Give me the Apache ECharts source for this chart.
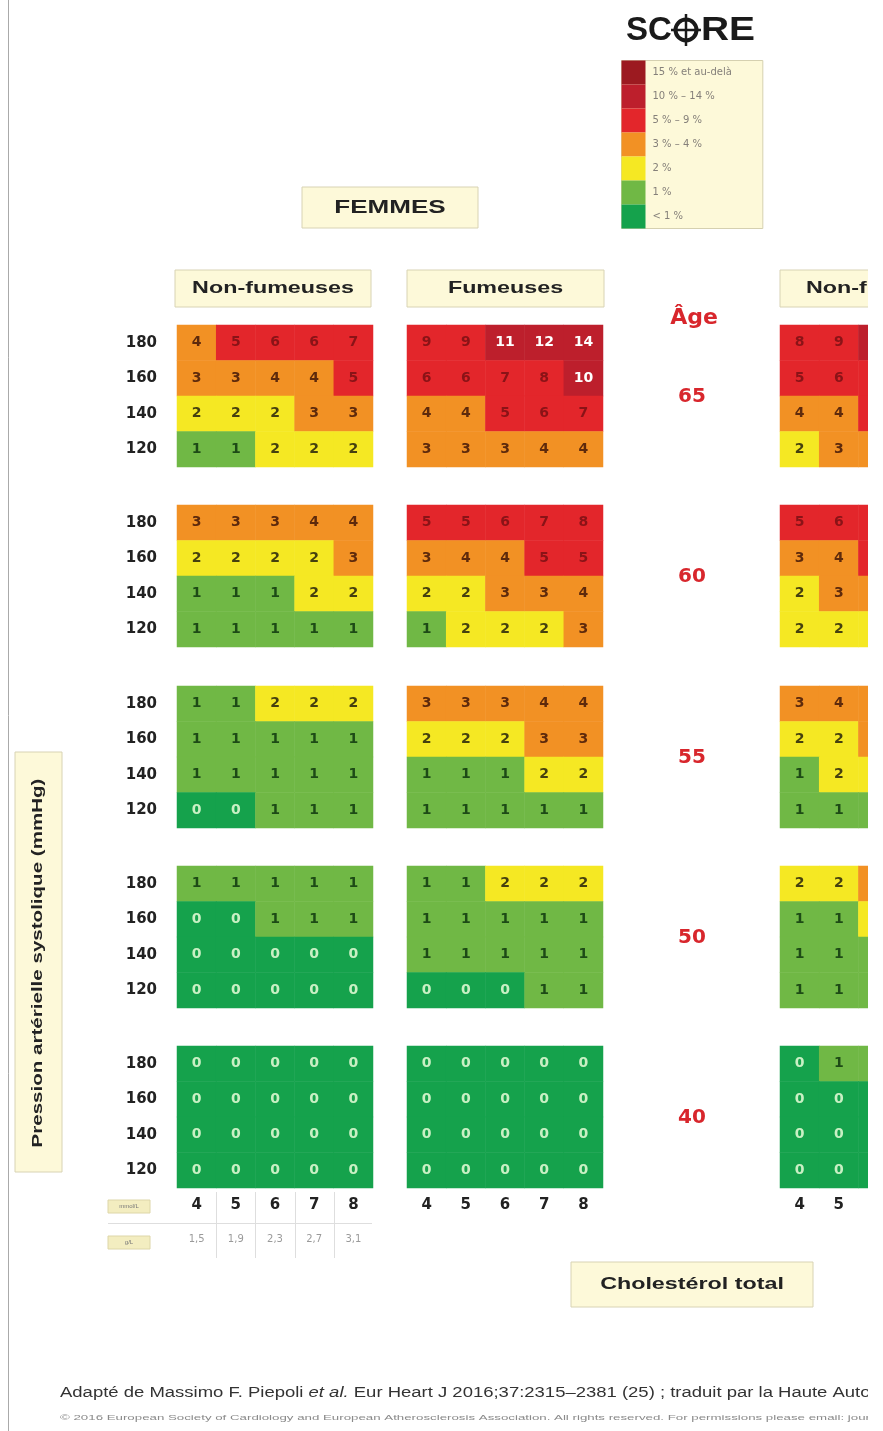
<!DOCTYPE html>
<html>
<head>
<meta charset="utf-8">
<script src="https://cdn.jsdelivr.net/npm/echarts@6/dist/echarts.min.js"></script>
<style>
  html, body { margin: 0; padding: 0; background: #fff; overflow: hidden; }
  #main { width: 900px; height: 1431px; }
</style>
</head>
<body>
<div id="main"></div>
<script>
const ages = ['65', '60', '55', '50', '40']
const pressions = ['120', '140', '160', '180']
const cholMmol = ['4', '5', '6', '7', '8']
const cholGl = ['1,5', '1,9', '2,3', '2,7', '3,1']

// one block per age, rows from 180 (top) down to 120
const femmesNonFumeuses = [
  [[4, 5, 6, 6, 7], [3, 3, 4, 4, 5], [2, 2, 2, 3, 3], [1, 1, 2, 2, 2]],
  [[3, 3, 3, 4, 4], [2, 2, 2, 2, 3], [1, 1, 1, 2, 2], [1, 1, 1, 1, 1]],
  [[1, 1, 2, 2, 2], [1, 1, 1, 1, 1], [1, 1, 1, 1, 1], [0, 0, 1, 1, 1]],
  [[1, 1, 1, 1, 1], [0, 0, 1, 1, 1], [0, 0, 0, 0, 0], [0, 0, 0, 0, 0]],
  [[0, 0, 0, 0, 0], [0, 0, 0, 0, 0], [0, 0, 0, 0, 0], [0, 0, 0, 0, 0]]
]
const femmesFumeuses = [
  [[9, 9, 11, 12, 14], [6, 6, 7, 8, 10], [4, 4, 5, 6, 7], [3, 3, 3, 4, 4]],
  [[5, 5, 6, 7, 8], [3, 4, 4, 5, 5], [2, 2, 3, 3, 4], [1, 2, 2, 2, 3]],
  [[3, 3, 3, 4, 4], [2, 2, 2, 3, 3], [1, 1, 1, 2, 2], [1, 1, 1, 1, 1]],
  [[1, 1, 2, 2, 2], [1, 1, 1, 1, 1], [1, 1, 1, 1, 1], [0, 0, 0, 1, 1]],
  [[0, 0, 0, 0, 0], [0, 0, 0, 0, 0], [0, 0, 0, 0, 0], [0, 0, 0, 0, 0]]
]
// panneau coupé à droite : seules les colonnes 4, 5 et un bout de 6 sont visibles
const hommesNonFumeurs = [
  [[8, 9, 10], [5, 6, 7], [4, 4, 5], [2, 3, 3]],
  [[5, 6, 7], [3, 4, 5], [2, 3, 3], [2, 2, 2]],
  [[3, 4, 4], [2, 2, 3], [1, 2, 2], [1, 1, 1]],
  [[2, 2, 3], [1, 1, 2], [1, 1, 1], [1, 1, 1]],
  [[0, 1, 1], [0, 0, 0], [0, 0, 0], [0, 0, 0]]
]

const FONT = 'Liberation Sans, Arial, sans-serif'
const WIDE = 'DejaVu Sans, sans-serif'
const CREAM = '#fdf9d9'
const BOXLINE = '#d8d3b4'
const RED = '#d8262c'
const STRETCH = 1.37

const panels = [
  { data: femmesNonFumeuses, left: 177, cols: 5, labels: true },
  { data: femmesFumeuses, left: 407, cols: 5, labels: false },
  { data: hommesNonFumeurs, left: 780, cols: 3, labels: false }
]
const colW = 39.2
const blockTop = [325, 505, 686, 866, 1046]
const blockH = 142

function labelColor(v) {
  if (v >= 10) return '#ffffff'
  if (v >= 5) return '#8a1317'
  if (v >= 3) return '#5e2a0c'
  if (v === 2) return '#45400f'
  if (v === 1) return '#1d4a16'
  return '#c9f0c4'
}

const grid = []
const xAxis = []
const yAxis = []
const series = []

panels.forEach((p, pi) => {
  ages.forEach((age, ai) => {
    const gi = grid.length
    grid.push({ left: p.left, top: blockTop[ai], width: colW * p.cols, height: blockH })
    const last = ai === ages.length - 1
    xAxis.push({
      type: 'category', gridIndex: gi, data: cholMmol.slice(0, p.cols),
      axisLine: { show: false }, axisTick: { show: false }, splitLine: { show: false },
      axisLabel: { show: last, margin: 10, fontSize: 15, fontWeight: 'bold', color: '#222', fontFamily: WIDE }
    })
    if (last && pi === 0) {
      xAxis.push({
        type: 'category', gridIndex: gi, data: cholGl, position: 'bottom', offset: 36,
        axisLine: { show: false }, axisTick: { show: false },
        axisLabel: { margin: 10, fontSize: 10, color: '#9a9a9a', fontFamily: WIDE }
      })
    }
    yAxis.push({
      type: 'category', gridIndex: gi, data: pressions,
      axisLine: { show: false }, axisTick: { show: false }, splitLine: { show: false },
      axisLabel: { show: p.labels, margin: 20, fontSize: 15, fontWeight: 'bold', color: '#222', fontFamily: WIDE }
    })
    const items = []
    p.data[ai].forEach((row, r) => {
      row.forEach((v, c) => {
        items.push({ value: [c, pressions.length - 1 - r, v], label: { color: labelColor(v) } })
      })
    })
    series.push({
      type: 'heatmap',
      xAxisIndex: xAxis.length - (last && pi === 0 ? 2 : 1),
      yAxisIndex: yAxis.length - 1,
      data: items,
      itemStyle: { borderWidth: 0 },
      label: { show: true, fontSize: 14, fontWeight: 'bold', fontFamily: WIDE },
      emphasis: { disabled: true }
    })
  })
})

function box(x, y, w, h, text, font) {
  return [
    { type: 'rect', shape: { x: x, y: y, width: w, height: h }, style: { fill: CREAM, stroke: BOXLINE, lineWidth: 1 } },
    { type: 'text', x: x + w / 2, y: y + h / 2, scaleX: STRETCH, style: { text: text, font: font, fill: '#222', align: 'center', verticalAlign: 'middle' } }
  ]
}

let graphic = [
  { type: 'line', shape: { x1: 8.5, y1: 0, x2: 8.5, y2: 1431 }, style: { stroke: '#aaa', lineWidth: 1 } },
  // SCORE
  { type: 'text', x: 626, y: 31, style: { text: 'SC', font: 'bold 33px ' + FONT, fill: '#1a1a1a', verticalAlign: 'middle' } },
  { type: 'circle', shape: { cx: 686, cy: 30, r: 10.5 }, style: { fill: 'none', stroke: '#1a1a1a', lineWidth: 4 } },
  { type: 'line', shape: { x1: 671, y1: 30, x2: 701, y2: 30 }, style: { stroke: '#1a1a1a', lineWidth: 2.5 } },
  { type: 'line', shape: { x1: 686, y1: 14, x2: 686, y2: 46 }, style: { stroke: '#1a1a1a', lineWidth: 2.5 } },
  { type: 'text', x: 701, y: 31, scaleX: 1.18, style: { text: 'RE', font: 'bold 33px ' + FONT, fill: '#1a1a1a', verticalAlign: 'middle' } },
  { type: 'text', x: 694, y: 318, style: { text: 'Âge', font: 'bold 22px ' + WIDE, fill: RED, align: 'center', verticalAlign: 'middle' } },
  // Pression artérielle
  { type: 'rect', shape: { x: 15, y: 752, width: 47, height: 420 }, style: { fill: CREAM, stroke: BOXLINE, lineWidth: 1 } },
  { type: 'text', x: 38, y: 963, rotation: Math.PI / 2, scaleX: STRETCH, style: { text: 'Pression artérielle systolique (mmHg)', font: 'bold 15px ' + FONT, fill: '#222', align: 'center', verticalAlign: 'middle' } },
  // petites étiquettes d'unités
  { type: 'rect', shape: { x: 108, y: 1200, width: 42, height: 13 }, style: { fill: '#f3edc0', stroke: '#ddd6a8', lineWidth: 1 } },
  { type: 'text', x: 129, y: 1206.5, style: { text: 'mmol/L', font: '6px ' + FONT, fill: '#777', align: 'center', verticalAlign: 'middle' } },
  { type: 'rect', shape: { x: 108, y: 1236, width: 42, height: 13 }, style: { fill: '#f3edc0', stroke: '#ddd6a8', lineWidth: 1 } },
  { type: 'text', x: 129, y: 1242.5, style: { text: 'g/L', font: '6px ' + FONT, fill: '#777', align: 'center', verticalAlign: 'middle' } },
  { type: 'line', shape: { x1: 108, y1: 1223.5, x2: 372, y2: 1223.5 }, style: { stroke: '#dedede', lineWidth: 1 } },
  // références
  {
    type: 'text', x: 60, y: 1393, scaleX: 1.32,
    style: {
      text: '{a|Adapté de Massimo F. Piepoli }{i|et al.}{a| Eur Heart J 2016;37:2315–2381 (25) ; traduit par la Haute Autorité de Santé}',
      verticalAlign: 'middle',
      rich: {
        a: { font: '14px ' + FONT, fill: '#333' },
        i: { font: 'italic 14px ' + FONT, fill: '#333' }
      }
    }
  },
  { type: 'text', x: 60, y: 1418, scaleX: 1.66, style: { text: '© 2016 European Society of Cardiology and European Atherosclerosis Association. All rights reserved. For permissions please email: journals.permissions@oup.com.', font: '8px ' + FONT, fill: '#8a8a8a', verticalAlign: 'middle' } }
]

graphic = graphic.concat(
  box(302, 187, 176, 41, 'FEMMES', 'bold 19px ' + FONT),
  box(175, 270, 196, 37, 'Non-fumeuses', 'bold 17px ' + FONT),
  box(407, 270, 197, 37, 'Fumeuses', 'bold 17px ' + FONT),
  [
    { type: 'rect', shape: { x: 780, y: 270, width: 196, height: 37 }, style: { fill: CREAM, stroke: BOXLINE, lineWidth: 1 } },
    { type: 'text', x: 806, y: 288.5, scaleX: STRETCH, style: { text: 'Non-fumeurs', font: 'bold 17px ' + FONT, fill: '#222', verticalAlign: 'middle' } }
  ],
  box(571, 1262, 242, 45, 'Cholestérol total', 'bold 17px ' + FONT)
)

ages.forEach((age, ai) => {
  graphic.push({ type: 'text', x: 692, y: blockTop[ai] + 72, style: { text: age, font: 'bold 20px ' + WIDE, fill: RED, align: 'center', verticalAlign: 'middle' } })
})
for (let k = 1; k < cholMmol.length; k++) {
  const x = Math.round(177 + k * colW) + 0.5
  graphic.push({ type: 'line', shape: { x1: x, y1: 1192, x2: x, y2: 1258 }, style: { stroke: '#dedede', lineWidth: 1 } })
}
// l'image d'origine est rognée à droite
graphic.push({ type: 'rect', z: 100, shape: { x: 868, y: 0, width: 40, height: 1431 }, style: { fill: '#fff' } })

const chart = echarts.init(document.getElementById('main'))
chart.setOption({
  backgroundColor: '#fff',
  animation: false,
  grid: grid,
  xAxis: xAxis,
  yAxis: yAxis,
  visualMap: {
    type: 'piecewise',
    orient: 'vertical',
    left: 621,
    top: 60,
    align: 'left',
    itemSymbol: 'rect',
    itemWidth: 24,
    itemHeight: 24,
    itemGap: 0,
    textGap: 7,
    padding: [0, 31, 0, 0],
    backgroundColor: CREAM,
    borderColor: '#d5d0b0',
    borderWidth: 1,
    selectedMode: false,
    hoverLink: false,
    textStyle: { fontSize: 10, color: '#85807a', fontFamily: WIDE },
    pieces: [
      { min: 15, label: '15 % et au-delà', color: '#9c1a20' },
      { min: 10, max: 14, label: '10 % – 14 %', color: '#bd1f2c' },
      { min: 5, max: 9, label: '5 % – 9 %', color: '#e3262b' },
      { min: 3, max: 4, label: '3 % – 4 %', color: '#f29124' },
      { value: 2, label: '2 %', color: '#f5e823' },
      { value: 1, label: '1 %', color: '#70b845' },
      { value: 0, label: '< 1 %', color: '#15a24c' }
    ]
  },
  series: series,
  graphic: graphic
})
</script>
</body>
</html>
